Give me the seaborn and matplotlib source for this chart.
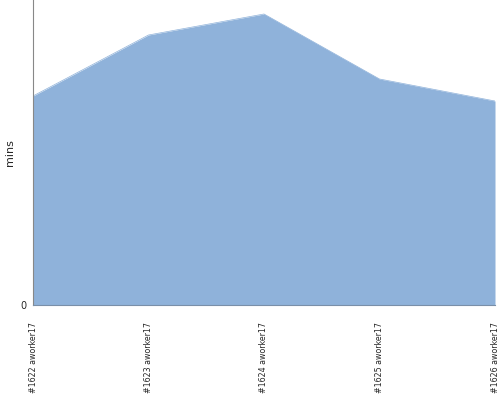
import matplotlib
matplotlib.use('Agg')
import matplotlib.pyplot as plt
import seaborn as sns
import pandas as pd
import numpy as np

builds = ['#1622 aworker17', '#1623 aworker17', '#1624 aworker17', '#1625 aworker17', '#1626 aworker17']
mins = [20.9, 27.0, 29.1, 22.6, 20.4]
y_max = 30.5

sns.set_style('white')
plt.rcParams['font.family'] = ['DejaVu Sans']

df = pd.DataFrame({'pos': np.arange(len(builds)), 'mins': mins})

fig = plt.figure(figsize=(5, 4), dpi=100)
ax = fig.add_axes([0.066, 0.2375, 0.924, 0.7625])
sns.lineplot(data=df, x='pos', y='mins', ax=ax, color='#8fb2da', linewidth=0.5)
ax.fill_between(df['pos'], df['mins'], color='#8fb2da', linewidth=0)

ax.set_xlim(0, len(builds) - 1)
ax.set_ylim(0, y_max)
ax.set_xticks(df['pos'])
ax.set_xticklabels(builds, rotation=90, fontsize=6.3, stretch='condensed')
ax.set_yticks([0])
ax.set_yticklabels(['0'], fontsize=7)
ax.tick_params(axis='y', length=4, color='#888888', pad=1)
ax.tick_params(axis='x', length=0, pad=12)
ax.set_xlabel('')
ax.set_ylabel('mins', fontsize=8)
ax.yaxis.set_label_coords(-0.04, 0.5)

for s in ['top', 'right']:
    ax.spines[s].set_visible(False)
ax.spines['left'].set_color('#888888')
ax.spines['bottom'].set_color('#7a8fa8')
ax.spines['left'].set_linewidth(0.8)
ax.spines['bottom'].set_linewidth(0.8)

fig.savefig('out.png', dpi=100)
